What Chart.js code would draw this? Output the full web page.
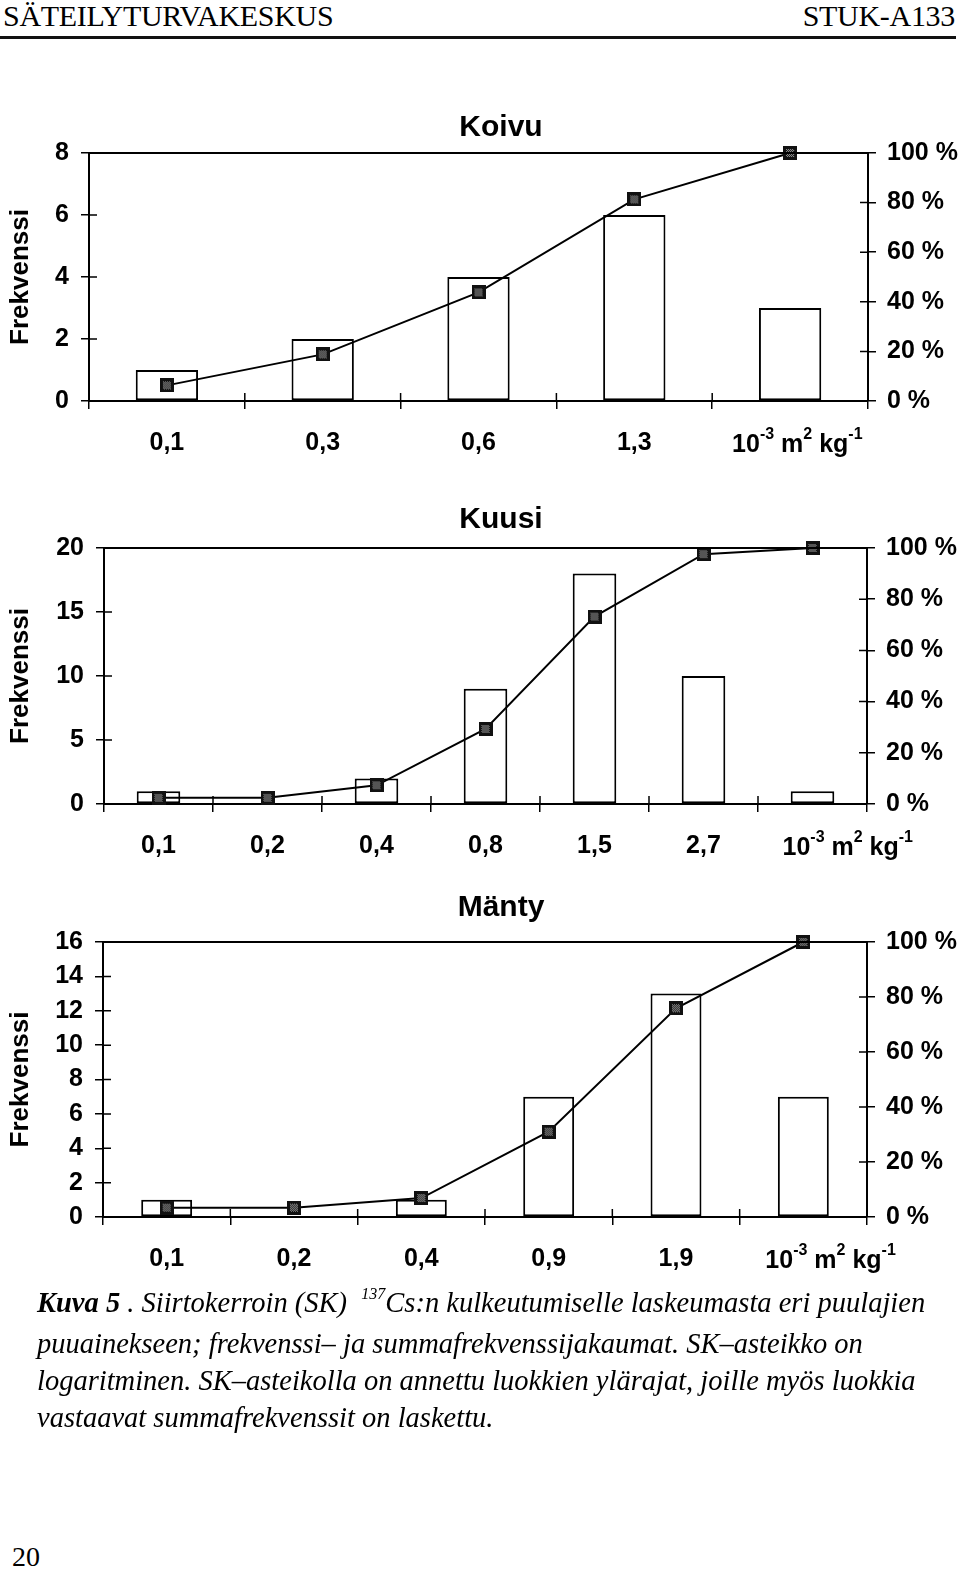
<!DOCTYPE html>
<html><head><meta charset="utf-8">
<script src="https://cdn.jsdelivr.net/npm/chart.js@4"></script>
<style>
html,body{margin:0;padding:0;background:#fff;}
body{width:960px;height:1573px;position:relative;overflow:hidden;font-family:"Liberation Serif","Times New Roman",serif;color:#000;}
.hdrL{position:absolute;left:3px;top:1px;font-size:30px;line-height:30px;letter-spacing:-0.3px;}
.hdrR{position:absolute;right:5px;top:1px;font-size:30px;line-height:30px;letter-spacing:-0.3px;}
.rule{position:absolute;left:0;top:36px;width:956px;height:3px;background:#111;}
.cv{position:absolute;left:0;}
.cap{position:absolute;left:37px;top:1284px;font-size:28.5px;line-height:37px;font-style:italic;white-space:nowrap;}
.cap sup{font-size:16px;vertical-align:0;position:relative;top:-13px;}
.pg{position:absolute;left:12px;top:1543px;font-size:28px;line-height:28px;}
</style>
</head><body>
<div class="hdrL">SÄTEILYTURVAKESKUS</div>
<div class="hdrR">STUK-A133</div>
<div class="rule"></div>

<canvas id="c1" class="cv" width="960" height="370" style="top:100px"></canvas>
<canvas id="c2" class="cv" width="960" height="383" style="top:490px"></canvas>
<canvas id="c3" class="cv" width="960" height="406" style="top:880px"></canvas>

<div class="cap"><b>Kuva 5</b> . Siirtokerroin (SK) &nbsp;<sup>137</sup>Cs:n kulkeutumiselle laskeumasta eri puulajien<br>puuainekseen; frekvenssi– ja summafrekvenssijakaumat. SK–asteikko on<br>logaritminen. SK–asteikolla on annettu luokkien ylärajat, joille myös luokkia<br>vastaavat summafrekvenssit on laskettu.</div>
<div class="pg">20</div>

<script>
// ---- Data ----
const koivuLabels = ['0,1', '0,3', '0,6', '1,3', ''];
const koivuFreq   = [1, 2, 4, 6, 3];
const koivuCum    = [6.3, 18.8, 43.8, 81.3, 100];

const kuusiLabels = ['0,1', '0,2', '0,4', '0,8', '1,5', '2,7', ''];
const kuusiFreq   = [1, 0, 2, 9, 18, 10, 1];
const kuusiCum    = [2.4, 2.4, 7.3, 29.3, 73.2, 97.6, 100];

const mantyLabels = ['0,1', '0,2', '0,4', '0,9', '1,9', ''];
const mantyFreq   = [1, 0, 1, 7, 13, 7];
const mantyCum    = [3.4, 3.4, 6.9, 31.0, 75.9, 100];

const pctTicks = [0, 20, 40, 60, 80, 100];
const yTitle = 'Frekvenssi';

// ---- styling ----
const FONT = '"Liberation Sans", Arial, sans-serif';
Chart.defaults.font.family = FONT;
Chart.defaults.font.weight = 'bold';
Chart.defaults.font.size = 25;
Chart.defaults.color = '#000';
Chart.defaults.animation = false;

function makeMarker(){
  const c = document.createElement('canvas');
  c.width = 14; c.height = 14;
  const g = c.getContext('2d');
  g.fillStyle = '#111'; g.fillRect(0,0,14,14);
  for (let y=3; y<11; y++) for (let x=3; x<11; x++) {
    if ((x+y)%2===0) { g.fillStyle = '#9a9a9a'; g.fillRect(x,y,1,1); }
  }
  return c;
}
const marker = makeMarker();

const framePlugin = {
  id: 'frame',
  afterDraw(chart, args, opts) {
    const {ctx, chartArea: a} = chart;
    ctx.save();
    ctx.strokeStyle = '#000';
    ctx.lineWidth = 2;
    ctx.beginPath();
    ctx.moveTo(a.left, a.top); ctx.lineTo(a.right, a.top);
    ctx.stroke();
    // inner half of crossing tick marks
    ctx.lineWidth = 1.5;
    const L = 8;
    const x = chart.scales.x, y = chart.scales.y, y2 = chart.scales.y2;
    ctx.beginPath();
    y.ticks.forEach((t, i) => { const p = y.getPixelForTick(i); ctx.moveTo(a.left, p); ctx.lineTo(a.left + L, p); });
    y2.ticks.forEach((t, i) => { const p = y2.getPixelForTick(i); ctx.moveTo(a.right, p); ctx.lineTo(a.right - L, p); });
    const n = chart.data.labels.length;
    for (let i = 1; i < n; i++) { const p = x.getPixelForValue(i - 0.5); ctx.moveTo(p, a.bottom); ctx.lineTo(p, a.bottom - L); }
    ctx.stroke();
    // title
    ctx.font = 'bold 30px ' + FONT;
    ctx.fillStyle = '#000';
    ctx.textAlign = 'center';
    ctx.textBaseline = 'middle';
    ctx.fillText(opts.title, 501, a.top - opts.titleGap);
    // unit label with superscripts
    const parts = [
      ['10', 25, 0], ['-3', 16, -10], [' m', 25, 0], ['2', 16, -10], [' kg', 25, 0], ['-1', 16, -10]
    ];
    let ux = x.getPixelForValue(n - 1) + opts.unitDx;
    const uy = a.bottom + 44;
    ctx.textAlign = 'left';
    ctx.textBaseline = 'middle';
    parts.forEach(([s, sz, dy]) => {
      ctx.font = 'bold ' + sz + 'px ' + FONT;
      ctx.fillText(s, ux, uy + dy);
      ux += ctx.measureText(s).width;
    });
    ctx.restore();
  }
};

function build(id, labels, freq, cum, yMax, yStep, leftW, rightW, padTop, title, titleGap, unitDx) {
  return new Chart(document.getElementById(id), {
    type: 'bar',
    data: {
      labels: labels,
      datasets: [
        { type: 'line', data: cum, yAxisID: 'y2', borderColor: '#000', borderWidth: 2,
          pointStyle: marker, pointRadius: 7, tension: 0, fill: false, clip: false, order: 0 },
        { type: 'bar', data: freq, yAxisID: 'y', backgroundColor: '#fff', borderColor: '#000',
          borderWidth: 2, borderSkipped: false, barPercentage: 0.40, categoryPercentage: 1.0, order: 1 }
      ]
    },
    options: {
      responsive: false,
      devicePixelRatio: 1,
      layout: { padding: { top: padTop, left: 0, right: 0, bottom: 0 } },
      plugins: { legend: { display: false }, tooltip: { enabled: false },
                 frame: { title: title, titleGap: titleGap, unitDx: unitDx } },
      scales: {
        x: {
          offset: true,
          grid: { offset: true, drawOnChartArea: false, drawTicks: true, tickLength: 8, color: '#000', lineWidth: 1.5 },
          border: { display: true, color: '#000', width: 2 },
          ticks: { padding: 19, maxRotation: 0, autoSkip: false },
          afterFit: s => { s.height = 69; }
        },
        y: {
          position: 'left', min: 0, max: yMax,
          ticks: { stepSize: yStep, padding: 12 },
          grid: { drawOnChartArea: false, tickLength: 8, color: '#000', lineWidth: 1.5 },
          border: { display: true, color: '#000', width: 2 },
          title: { display: true, text: yTitle, font: { size: 26, weight: 'bold' }, padding: { top: 5, bottom: 0 } },
          afterFit: s => { s.width = leftW; }
        },
        y2: {
          position: 'right', min: 0, max: 100,
          afterBuildTicks: s => { s.ticks = pctTicks.map(v => ({ value: v })); },
          ticks: { padding: 11, callback: v => v + ' %' },
          grid: { drawOnChartArea: false, tickLength: 8, color: '#000', lineWidth: 1.5 },
          border: { display: true, color: '#000', width: 2 },
          afterFit: s => { s.width = rightW; }
        }
      }
    },
    plugins: [framePlugin]
  });
}

build('c1', koivuLabels, koivuFreq, koivuCum, 8, 2, 89, 92, 53, 'Koivu', 25, -58);
build('c2', kuusiLabels, kuusiFreq, kuusiCum, 20, 5, 104, 93, 58, 'Kuusi', 28, -30);
build('c3', mantyLabels, mantyFreq, mantyCum, 16, 2, 103, 93, 62, 'Mänty', 34, -38);
</script>
</body></html>
